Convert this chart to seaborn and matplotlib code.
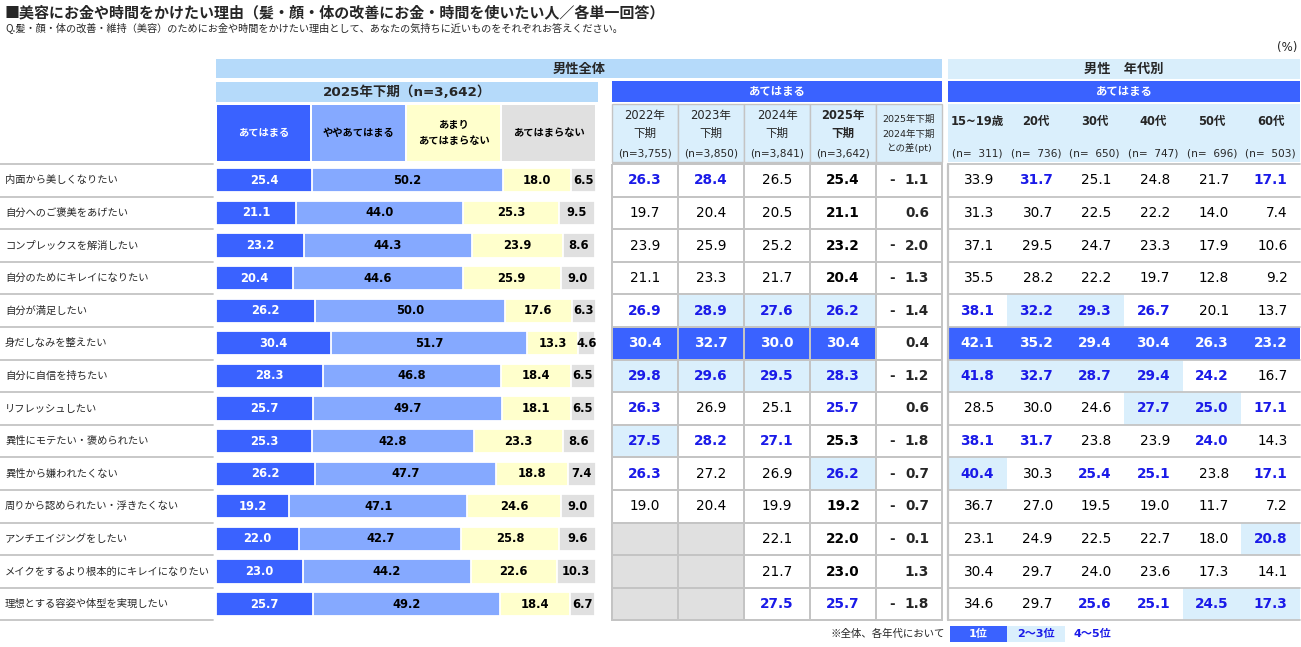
import numpy as np
import pandas as pd
import matplotlib
matplotlib.use("Agg")
import matplotlib.pyplot as plt
import seaborn as sns
from matplotlib.colors import ListedColormap
from matplotlib.patches import Rectangle
from matplotlib.transforms import blended_transform_factory

# ---------------- data ----------------
labels = [
    "内面から美しくなりたい", "自分へのご褒美をあげたい", "コンプレックスを解消したい",
    "自分のためにキレイになりたい", "自分が満足したい", "身だしなみを整えたい",
    "自分に自信を持ちたい", "リフレッシュしたい", "異性にモテたい・褒められたい",
    "異性から嫌われたくない", "周りから認められたい・浮きたくない", "アンチエイジングをしたい",
    "メイクをするより根本的にキレイになりたい", "理想とする容姿や体型を実現したい",
]
seg_names = ["あてはまる", "ややあてはまる", "あまり\nあてはまらない", "あてはまらない"]
very = [25.4, 21.1, 23.2, 20.4, 26.2, 30.4, 28.3, 25.7, 25.3, 26.2, 19.2, 22.0, 23.0, 25.7]
somewhat = [50.2, 44.0, 44.3, 44.6, 50.0, 51.7, 46.8, 49.7, 42.8, 47.7, 47.1, 42.7, 44.2, 49.2]
notmuch = [18.0, 25.3, 23.9, 25.9, 17.6, 13.3, 18.4, 18.1, 23.3, 18.8, 24.6, 25.8, 22.6, 18.4]
notatall = [6.5, 9.5, 8.6, 9.0, 6.3, 4.6, 6.5, 6.5, 8.6, 7.4, 9.0, 9.6, 10.3, 6.7]

year_heads = ["2022年", "2023年", "2024年", "2025年"]
year_n = ["(n=3,755)", "(n=3,850)", "(n=3,841)", "(n=3,642)"]
y2022 = [26.3, 19.7, 23.9, 21.1, 26.9, 30.4, 29.8, 26.3, 27.5, 26.3, 19.0, None, None, None]
y2023 = [28.4, 20.4, 25.9, 23.3, 28.9, 32.7, 29.6, 26.9, 28.2, 27.2, 20.4, None, None, None]
y2024 = [26.5, 20.5, 25.2, 21.7, 27.6, 30.0, 29.5, 25.1, 27.1, 26.9, 19.9, 22.1, 21.7, 27.5]
y2025 = [25.4, 21.1, 23.2, 20.4, 26.2, 30.4, 28.3, 25.7, 25.3, 26.2, 19.2, 22.0, 23.0, 25.7]
diff = [-1.1, 0.6, -2.0, -1.3, -1.4, 0.4, -1.2, 0.6, -1.8, -0.7, -0.7, -0.1, 1.3, -1.8]

age_heads = ["15~19歳", "20代", "30代", "40代", "50代", "60代"]
age_n = ["(n=  311)", "(n=  736)", "(n=  650)", "(n=  747)", "(n=  696)", "(n=  503)"]
age15 = [33.9, 31.3, 37.1, 35.5, 38.1, 42.1, 41.8, 28.5, 38.1, 40.4, 36.7, 23.1, 30.4, 34.6]
age20 = [31.7, 30.7, 29.5, 28.2, 32.2, 35.2, 32.7, 30.0, 31.7, 30.3, 27.0, 24.9, 29.7, 29.7]
age30 = [25.1, 22.5, 24.7, 22.2, 29.3, 29.4, 28.7, 24.6, 23.8, 25.4, 19.5, 22.5, 24.0, 25.6]
age40 = [24.8, 22.2, 23.3, 19.7, 26.7, 30.4, 29.4, 27.7, 23.9, 25.1, 19.0, 22.7, 23.6, 25.1]
age50 = [21.7, 14.0, 17.9, 12.8, 20.1, 26.3, 24.2, 25.0, 24.0, 23.8, 11.7, 18.0, 17.3, 24.5]
age60 = [17.1, 7.4, 10.6, 9.2, 13.7, 23.2, 16.7, 17.1, 14.3, 17.1, 7.2, 20.8, 14.1, 17.3]

# ---------------- style ----------------
W, H = 1301, 647
BLUE = "#3A62FF"
LBLUE = "#85A9FF"
YELLOW = "#FFFFCC"
GRAY = "#E0E0E0"
HILITE = "#DAEFFC"
BAND = "#B5DAFA"
BAND2 = "#D9EEFB"
TXTBLUE = "#1A1AE8"
LINE = "#C4C4C4"

sns.set_theme(style="white")
plt.rcParams["font.family"] = ["DejaVu Sans", "Noto Sans CJK JP"]
JP = ["Noto Sans CJK JP", "DejaVu Sans"]

TOP = 164.0
ROWH = 32.6
N = len(labels)
BOT = TOP + N * ROWH
BAR_L, BAR_R = 216, 596
MID_L, MID_R = 612, 942
AGE_L, AGE_R = 948, 1300


def rect(x0, y0, x1, y1):
    return [x0 / W, 1 - y1 / H, (x1 - x0) / W, (y1 - y0) / H]


def rank_codes(col):
    valid = [v for v in col if v is not None]
    out = []
    for v in col:
        if v is None:
            out.append(4)
            continue
        r = 1 + sum(1 for u in valid if u > v)
        out.append(1 if r == 1 else 2 if r <= 3 else 3 if r <= 5 else 0)
    return out


fig = plt.figure(figsize=(W / 100, H / 100), dpi=100)
fig.patch.set_facecolor("white")

# background/overlay axes in pixel coordinates for headers
ax_bg = fig.add_axes([0, 0, 1, 1])
ax_bg.set_xlim(0, W)
ax_bg.set_ylim(H, 0)
ax_bg.axis("off")

ax_bg.text(5, 12, "■美容にお金や時間をかけたい理由（髪・顔・体の改善にお金・時間を使いたい人／各単一回答）",
           fontsize=10.8, fontweight="bold", family=JP, va="center", ha="left")
ax_bg.text(5, 28, "Q.髪・顔・体の改善・維持（美容）のためにお金や時間をかけたい理由として、あなたの気持ちに近いものをそれぞれお答えください。",
           fontsize=7.3, family=JP, va="center", ha="left")
ax_bg.text(1297, 47, "(%)", fontsize=8.5, va="center", ha="right")

# top bands
ax_bg.add_patch(Rectangle((BAR_L, 59), MID_R - BAR_L, 19, fc=BAND, ec="none"))
ax_bg.text((BAR_L + MID_R) / 2, 68.5, "男性全体", fontsize=9.5, fontweight="bold", family=JP, ha="center", va="center")
ax_bg.add_patch(Rectangle((AGE_L, 59), AGE_R - AGE_L, 20, fc=BAND2, ec="none"))
ax_bg.text((AGE_L + AGE_R) / 2, 69, "男性　年代別", fontsize=9.5, fontweight="bold", family=JP, ha="center", va="center")

ax_bg.add_patch(Rectangle((BAR_L, 82), 598 - BAR_L, 20, fc=BAND, ec="none"))
ax_bg.text((BAR_L + 598) / 2, 92, "2025年下期（n=3,642）", fontsize=9.7, fontweight="bold", ha="center", va="center")
ax_bg.add_patch(Rectangle((MID_L, 81), MID_R - MID_L, 21, fc=BLUE, ec="none"))
ax_bg.text((MID_L + MID_R) / 2, 91.5, "あてはまる", fontsize=8.2, fontweight="bold", color="white", family=JP, ha="center", va="center")
ax_bg.add_patch(Rectangle((AGE_L, 81), AGE_R - AGE_L, 21, fc=BLUE, ec="none"))
ax_bg.text((AGE_L + AGE_R) / 2, 91.5, "あてはまる", fontsize=8.2, fontweight="bold", color="white", family=JP, ha="center", va="center")

# bar category header cells
seg_colors = [BLUE, LBLUE, YELLOW, GRAY]
cw = (BAR_R - BAR_L) / 4
for k, (name, c) in enumerate(zip(seg_names, seg_colors)):
    x0 = BAR_L + k * cw
    ax_bg.add_patch(Rectangle((x0 + 1, 105), cw - 2, 56, fc=c, ec="none"))
    ax_bg.text(x0 + cw / 2, 133, name, fontsize=7.4, fontweight="bold", family=JP,
               color="white" if k == 0 else "black", ha="center", va="center", linespacing=1.7)

# middle header cells
mw = (MID_R - MID_L) / 5
for j in range(5):
    x0 = MID_L + j * mw
    ax_bg.add_patch(Rectangle((x0, 104), mw, 58, fc=HILITE, ec=LINE, lw=1))
    cx = x0 + mw / 2
    if j < 4:
        fw = "bold" if j == 3 else "normal"
        ax_bg.text(cx, 115, year_heads[j], fontsize=8.3, fontweight=fw, ha="center", va="center")
        ax_bg.text(cx, 133, "下期", fontsize=8.3, fontweight=fw, family=JP, ha="center", va="center")
        ax_bg.text(cx, 153, year_n[j], fontsize=7.6, ha="center", va="center")
    else:
        ax_bg.text(cx, 119, "2025年下期", fontsize=6.8, ha="center", va="center")
        ax_bg.text(cx, 134, "2024年下期", fontsize=6.8, ha="center", va="center")
        ax_bg.text(cx, 148, "との差(pt)", fontsize=6.8, ha="center", va="center")

# age header
aw = (AGE_R - AGE_L) / 6
ax_bg.add_patch(Rectangle((AGE_L, 104), AGE_R - AGE_L, 58, fc=HILITE, ec="none"))
for j in range(6):
    cx = AGE_L + j * aw + aw / 2
    ax_bg.text(cx, 122, age_heads[j], fontsize=8.3, fontweight="bold", ha="center", va="center")
    ax_bg.text(cx, 153, age_n[j], fontsize=7.6, ha="center", va="center")

# footer legend
ax_bg.text(945, 634, "※全体、各年代において", fontsize=7.5, family=JP, ha="right", va="center")
ax_bg.add_patch(Rectangle((950, 626), 57, 16, fc=BLUE, ec="none"))
ax_bg.text(978.5, 634, "1位", fontsize=8, fontweight="bold", color="white", ha="center", va="center")
ax_bg.add_patch(Rectangle((1007, 626), 58, 16, fc=HILITE, ec="none"))
ax_bg.text(1036, 634, "2～3位", fontsize=8, fontweight="bold", color=TXTBLUE, ha="center", va="center")
ax_bg.text(1092, 634, "4～5位", fontsize=8, fontweight="bold", color=TXTBLUE, ha="center", va="center")

# ---------------- stacked bars (seaborn) ----------------
ax_bar = fig.add_axes(rect(BAR_L, TOP, BAR_R, BOT))
segs = np.array([very, somewhat, notmuch, notatall])
cum = np.cumsum(segs, axis=0)
for k in range(3, -1, -1):
    sns.barplot(x=list(cum[k]), y=labels, order=labels, orient="h", color=seg_colors[k],
                saturation=1, width=0.74, edgecolor="white", linewidth=1.3, ax=ax_bar)
ax_bar.set_xlim(0, 100.2)
ax_bar.set_ylim(N - 0.5, -0.5)
ax_bar.axis("off")
for i in range(N):
    start = 0.0
    for k in range(4):
        v = segs[k][i]
        ax_bar.text(start + v / 2, i, f"{v:.1f}", fontsize=8.3, fontweight="bold",
                    color="white" if k == 0 else "black", ha="center", va="center")
        start += v

trans = blended_transform_factory(fig.transFigure, ax_bar.transData)
for i, lab in enumerate(labels):
    ax_bar.text(5 / W, i, lab, transform=trans, fontsize=7.4, family=JP, ha="left", va="center", clip_on=False)
for b in range(N + 1):
    ax_bar.plot([0, 213 / W], [b - 0.5, b - 0.5], transform=trans, color=LINE, lw=1.3, clip_on=False)

# ---------------- middle table (heatmap) ----------------
cmap = ListedColormap(["white", BLUE, HILITE, "white", GRAY])
year_cols = [y2022, y2023, y2024, y2025]
mid_codes = np.array([rank_codes(c) for c in year_cols] + [[0] * N]).T
ax_mid = fig.add_axes(rect(MID_L, TOP, MID_R, BOT))
sns.heatmap(mid_codes, cmap=cmap, vmin=-0.5, vmax=4.5, cbar=False, linewidths=1.2,
            linecolor=LINE, xticklabels=False, yticklabels=False, ax=ax_mid)
ax_mid.collections[0].set_clip_on(False)
for j, col in enumerate(year_cols):
    for i, v in enumerate(col):
        if v is None:
            continue
        code = mid_codes[i, j]
        if code == 1:
            color, fw = "white", "bold"
        elif code in (2, 3):
            color, fw = TXTBLUE, "bold"
        else:
            color, fw = "black", ("bold" if j == 3 else "normal")
        ax_mid.text(j + 0.5, i + 0.5, f"{v:.1f}", fontsize=9.8, fontweight=fw, color=color,
                    ha="center", va="center")
for i, v in enumerate(diff):
    if v < 0:
        ax_mid.text(4 + 16 / mw, i + 0.5, "-", fontsize=9.8, fontweight="bold", ha="center", va="center")
    ax_mid.text(4 + 53 / mw, i + 0.5, f"{abs(v):.1f}", fontsize=9.8, fontweight="bold", ha="right", va="center")

# ---------------- age table (heatmap) ----------------
age_cols = [age15, age20, age30, age40, age50, age60]
age_codes = np.array([rank_codes(c) for c in age_cols]).T
ax_age = fig.add_axes(rect(AGE_L, TOP, AGE_R, BOT))
sns.heatmap(age_codes, cmap=cmap, vmin=-0.5, vmax=4.5, cbar=False, linewidths=0,
            xticklabels=False, yticklabels=False, ax=ax_age)
for b in range(N + 1):
    ax_age.axhline(b, color=LINE, lw=1.3, clip_on=False)
ax_age.axvline(0, color=LINE, lw=1.6, clip_on=False)
for j, col in enumerate(age_cols):
    for i, v in enumerate(col):
        code = age_codes[i, j]
        if code == 1:
            color, fw = "white", "bold"
        elif code in (2, 3):
            color, fw = TXTBLUE, "bold"
        else:
            color, fw = "black", "normal"
        ax_age.text(j + 1 - 12.5 / aw, i + 0.5, f"{v:.1f}", fontsize=9.8, fontweight=fw, color=color,
                    ha="right", va="center")

fig.savefig("out.png", dpi=100, facecolor="white")
